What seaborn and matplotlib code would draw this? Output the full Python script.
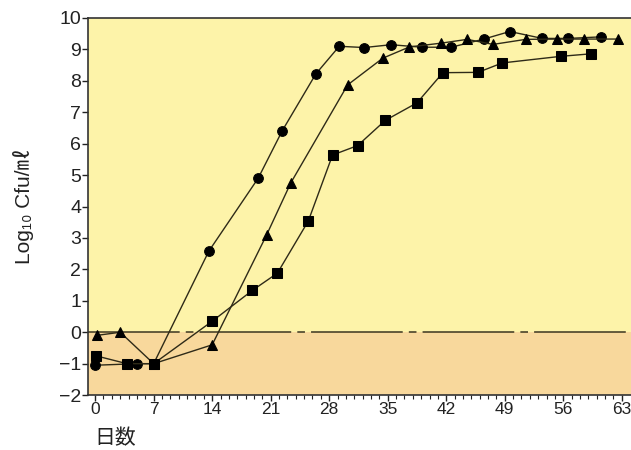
import pandas as pd
import numpy as np
import matplotlib
matplotlib.use("Agg")
import matplotlib.pyplot as plt
import seaborn as sns

# values
circle_day = [0, 5, 7, 13.6, 19.5, 22.4, 26.4, 29.2, 32.2, 35.4, 39.1, 42.6, 46.5, 49.6, 53.5, 56.6, 60.5]
circle_log = [-1.05, -1.0, -1.0, 2.58, 4.9, 6.42, 8.22, 9.1, 9.06, 9.15, 9.07, 9.07, 9.33, 9.57, 9.35, 9.35, 9.4]

triangle_day = [0.2, 3, 7, 14, 20.5, 23.4, 30.2, 34.4, 37.6, 41.4, 44.5, 47.6, 51.5, 55.3, 58.5, 62.6]
triangle_log = [-0.1, 0.0, -1.0, -0.4, 3.09, 4.75, 7.87, 8.72, 9.08, 9.2, 9.32, 9.16, 9.32, 9.33, 9.33, 9.33]

square_day = [0.1, 3.8, 7, 14, 18.8, 21.8, 25.5, 28.4, 31.4, 34.7, 38.5, 41.6, 45.8, 48.7, 55.7, 59.3]
square_log = [-0.75, -1.0, -1.0, 0.35, 1.33, 1.88, 3.54, 5.64, 5.94, 6.74, 7.3, 8.26, 8.27, 8.57, 8.78, 8.86]

x_ticks = list(range(0, 64, 7))
y_ticks = list(range(-2, 11))

df = pd.concat([
    pd.DataFrame({"day": circle_day, "log": circle_log, "series": "circle"}),
    pd.DataFrame({"day": triangle_day, "log": triangle_log, "series": "triangle"}),
    pd.DataFrame({"day": square_day, "log": square_log, "series": "square"}),
])

sns.set_style("ticks")
plt.rcParams['font.family'] = ['Liberation Sans', 'Noto Sans CJK JP', 'DejaVu Sans']

fig = plt.figure(figsize=(6.31, 4.5), dpi=100)
ax = fig.add_axes([0.1395, 0.122, 0.8605, 0.838])
ax.set_facecolor("#fdf3a9")
ax.axhspan(-2, 0, color="#f8d89c", zorder=0, lw=0)
ax.axhline(0, color="#3b3520", lw=1.1, dashes=(60, 4, 5, 4), zorder=1)

sns.lineplot(data=df, x="day", y="log", style="series", estimator=None, sort=False,
             markers={"circle": "o", "triangle": "^", "square": "s"},
             dashes=False, color="#2e2a18", lw=1.0, markersize=7,
             markeredgecolor="black", markerfacecolor="black", legend=False, ax=ax, zorder=3)

ax.set_xlim(-0.85, 64.1)
ax.set_ylim(-2, 10)
ax.set_xticks(x_ticks)
ax.set_xticks(range(0, 64), minor=True)
ax.set_yticks(y_ticks)
ax.set_yticklabels([str(v).replace('-', '\u2212') for v in y_ticks])
ax.tick_params(axis="both", labelsize=14, colors="#222222", width=1, length=4, pad=1)
ax.tick_params(axis="x", labelsize=12.5)
ax.tick_params(axis="x", which="minor", length=3, width=0.8, color="#222222")

for s in ["left", "bottom", "top"]:
    ax.spines[s].set_color("#333333")
    ax.spines[s].set_linewidth(1.2)
ax.spines["right"].set_visible(False)

ax.set_xlabel("")
ax.set_ylabel("Log\u2081\u2080 Cfu/\u3396", fontsize=15, color="#222222", labelpad=18)
ax.text(-0.1, -0.085, "日数", transform=ax.get_xaxis_transform(), ha="left", va="top",
        fontsize=15, color="#222222", family=['Noto Sans CJK JP'])

fig.savefig("out.png", dpi=100, facecolor="white")
